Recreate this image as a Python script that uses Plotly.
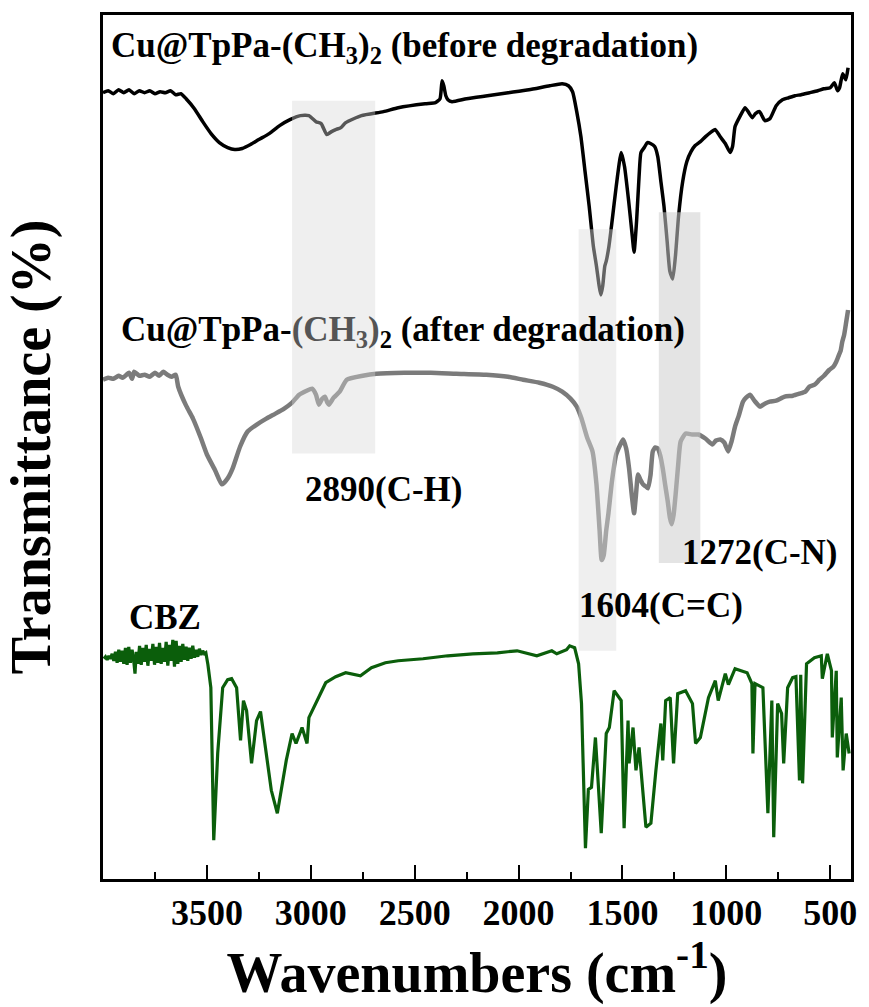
import plotly.graph_objects as go

# ---- FTIR spectra (wavenumber in cm^-1, transmittance in stacked arbitrary units) ----
before_wn = [4000, 3975, 3950, 3925, 3900, 3875, 3850, 3825, 3800, 3775, 3750, 3725, 3700, 3675,
             3650, 3625, 3600, 3560, 3520, 3480, 3440, 3400, 3366, 3330, 3290, 3250, 3200, 3150,
             3100, 3050, 3009, 2975, 2950, 2923, 2900, 2880, 2855, 2832, 2756, 2650, 2579, 2450,
             2400, 2378, 2368, 2360, 2350, 2340, 2320, 2250, 2150, 2050, 1950, 1850, 1790, 1760,
             1740, 1720, 1700, 1680, 1660, 1640, 1625, 1612, 1604, 1595, 1585, 1578, 1565, 1550,
             1530, 1506, 1490, 1470, 1455, 1444, 1432, 1420, 1411, 1395, 1380, 1365, 1345, 1330,
             1315, 1300, 1285, 1272, 1258, 1245, 1230, 1210, 1190, 1170, 1150, 1125, 1100, 1077,
             1053, 1030, 1005, 982, 970, 958, 935, 910, 895, 875, 860, 840, 815, 790, 760,
             730, 700, 670, 640, 600, 560, 530, 500, 480, 465, 455, 440, 425, 414]
before_t = [78.9, 79.1, 78.8, 79.2, 78.9, 79.2, 78.8, 79.1, 78.9, 79.1, 78.8, 79.0, 78.9, 79.1,
            78.7, 78.8, 78.3, 77.3, 76.0, 74.8, 73.9, 73.4, 73.2, 73.3, 73.7, 74.2, 74.8, 75.6,
            76.2, 76.6, 76.6, 76.0, 75.8, 74.7, 75.0, 75.2, 75.4, 75.9, 76.6, 77.0, 77.4, 77.8,
            77.9, 78.3, 80.1, 79.6, 78.6, 78.2, 78.0, 78.3, 78.6, 78.9, 79.2, 79.6, 79.8, 79.6,
            79.0, 77.0, 74.5, 71.0, 67.5, 63.5, 61.5, 59.5, 58.6, 59.5, 61.5, 62.0, 63.5, 66.0,
            69.5, 72.9, 71.5, 68.0, 65.0, 62.9, 66.0, 70.5, 72.9, 73.4, 73.9, 73.8, 73.5, 72.5,
            70.0, 67.5, 64.0, 61.0, 60.2, 62.5, 66.5, 70.0, 72.0, 73.0, 73.6, 74.0, 74.5, 74.9,
            75.2, 74.5, 73.8, 72.9, 73.5, 75.5, 76.5, 77.4, 77.0, 76.4, 76.8, 77.0, 76.1, 76.3,
            77.6, 78.2, 78.4, 78.6, 78.7, 78.9, 79.1, 79.3, 79.4, 79.9, 79.1, 79.4, 80.8, 80.2, 81.4]

after_wn = [4000, 3975, 3950, 3925, 3905, 3875, 3860, 3850, 3825, 3800, 3775, 3750, 3730, 3710,
            3690, 3670, 3650, 3638, 3600, 3567, 3530, 3500, 3460, 3428, 3400, 3376, 3340, 3304,
            3260, 3214, 3170, 3128, 3090, 3056, 3020, 2994, 2975, 2961, 2945, 2932, 2920, 2913,
            2890, 2861, 2827, 2750, 2684, 2550, 2422, 2300, 2155, 2050, 1978, 1900, 1835, 1790,
            1750, 1720, 1697, 1670, 1644, 1625, 1610, 1600, 1590, 1578, 1568, 1550, 1530, 1510,
            1497, 1482, 1468, 1455, 1444, 1435, 1425, 1412, 1401, 1388, 1377, 1365, 1354, 1342,
            1330, 1318, 1306, 1294, 1282, 1272, 1263, 1254, 1244, 1232, 1220, 1196, 1165, 1134,
            1101, 1067, 1050, 1029, 1010, 991, 975, 958, 940, 920, 905, 886, 865, 838, 815, 791,
            760, 719, 680, 648, 620, 600, 575, 552, 530, 504, 485, 471, 458, 450, 442, 433, 423, 414]
after_t = [50.1, 50.3, 50.2, 50.5, 50.3, 50.8, 50.2, 50.9, 50.5, 50.6, 50.4, 50.8, 50.5, 50.9,
           50.6, 50.4, 50.6, 49.4, 47.5, 46.2, 44.3, 42.6, 41.0, 39.6, 40.2, 41.2, 43.4, 44.9,
           45.6, 46.2, 46.7, 47.2, 47.8, 48.6, 49.0, 49.2, 48.6, 47.6, 48.2, 48.4, 47.8, 47.6,
           48.3, 48.9, 50.1, 50.5, 50.7, 50.8, 50.8, 50.7, 50.6, 50.4, 50.1, 49.8, 49.4, 48.9,
           48.2, 47.4, 46.2, 44.3, 42.9, 39.6, 35.0, 32.0, 32.5, 35.0, 36.6, 40.0, 42.6, 43.6,
           44.1, 43.2, 41.2, 38.5, 36.7, 38.5, 40.6, 40.0, 39.6, 39.4, 39.2, 40.5, 42.9, 43.3,
           43.2, 42.5, 41.2, 39.5, 37.9, 36.3, 35.6, 36.5, 38.6, 41.5, 43.9, 44.7, 44.6, 44.6,
           44.2, 43.6, 44.0, 44.1, 43.8, 42.9, 43.9, 45.4, 46.5, 47.9, 48.3, 48.6, 48.0, 47.4,
           47.7, 47.9, 48.0, 48.4, 48.5, 48.7, 48.9, 49.4, 49.6, 50.1, 50.5, 51.1, 51.4, 51.9,
           52.6, 53.0, 53.9, 54.6, 55.9, 57.1]

cbz_wn = [3996, 3988, 3980, 3972, 3964, 3956, 3948, 3940, 3932, 3924, 3916, 3908, 3900, 3892,
          3884, 3876, 3868, 3860, 3852, 3846, 3840, 3832, 3824, 3816, 3808, 3800, 3792, 3784,
          3776, 3768, 3760, 3752, 3744, 3736, 3728, 3720, 3712, 3704, 3696, 3688, 3680, 3672,
          3664, 3656, 3648, 3640, 3632, 3624, 3616, 3608, 3600, 3592, 3584, 3576, 3568, 3560,
          3552, 3544, 3536, 3528, 3520, 3512, 3505,
          3495, 3481, 3467, 3448, 3424, 3400, 3381,
          3357, 3338, 3324, 3309, 3285, 3261, 3242, 3214, 3190, 3161, 3118, 3090, 3071, 3042,
          3018, 3009, 2961, 2928, 2880, 2832, 2761, 2708, 2641, 2579, 2460, 2341, 2220, 2102,
          2007, 1912, 1840, 1816, 1769, 1754, 1730, 1711, 1697, 1678, 1664, 1649, 1630, 1602,
          1578, 1563, 1540, 1506, 1492, 1473, 1468, 1449, 1435, 1420, 1387, 1363, 1339, 1315,
          1306, 1292, 1270, 1254, 1234, 1196, 1163, 1148, 1125, 1086, 1053, 1039, 1005, 990,
          958, 900, 877, 872, 862, 824, 800, 781, 772, 753, 734, 724, 705, 681, 665, 648,
          642, 633, 614, 576, 543, 538, 514, 494, 490, 471, 466, 447, 438, 423, 409]
cbz_t = [22.1, 22.3, 22.0, 22.4, 22.1, 22.6, 21.9, 22.8, 21.7, 23.0, 21.8, 22.9, 21.6, 23.2,
         21.5, 23.3, 21.7, 23.0, 21.9, 20.6, 22.8, 21.6, 23.4, 21.5, 23.2, 21.8, 23.5, 21.4,
         23.1, 21.9, 23.6, 21.5, 23.3, 21.7, 23.7, 21.6, 23.2, 21.8, 23.8, 21.4, 23.5, 21.9,
         24.0, 21.3, 23.9, 21.6, 23.4, 21.8, 23.6, 22.0, 23.3, 21.9, 23.2, 22.1, 23.4, 22.2,
         23.0, 22.3, 23.1, 22.5, 22.9, 22.6, 22.7,
         21.5, 19.2, 3.9, 12.6, 19.2, 20.0, 20.1,
         19.2, 13.9, 17.9, 16.9, 11.6, 15.9, 16.8, 12.6, 8.9, 6.6, 11.9, 14.6, 13.6, 15.2,
         13.6, 16.2, 18.2, 19.7, 20.3, 20.7, 20.4, 21.2, 21.7, 21.9, 22.1, 22.4, 22.6, 22.7,
         22.9, 22.4, 22.9, 22.6, 23.0, 23.4, 23.2, 21.6, 17.6, 3.1, 9.0, 9.2, 14.2, 4.6,
         14.6, 15.2, 18.9, 17.9, 5.1, 15.9, 11.6, 15.2, 10.9, 13.2, 5.2, 5.6, 10.9, 15.6,
         11.9, 17.9, 18.2, 11.6, 18.6, 18.9, 17.6, 13.6, 14.2, 18.2, 19.9, 17.9, 20.6, 19.5,
         21.1, 20.7, 19.6, 12.6, 19.6, 19.2, 6.6, 17.9, 4.2, 17.6, 16.6, 11.6, 19.2, 20.2, 20.3, 9.9,
         20.5, 9.6, 21.6, 22.2, 22.4, 20.1, 22.6, 20.9, 14.2, 20.9, 12.2, 18.2, 10.9, 14.6, 12.6]

# highlighted bands: (wn_start, wn_end, t_low, t_high, fill)
bands = [
    (3090, 2690, 42.7, 78.1, "rgba(215,215,215,0.40)"),
    (1711, 1530, 22.9, 65.2, "rgba(220,220,220,0.45)"),
    (1325, 1125, 31.7, 66.9, "rgba(205,205,205,0.55)"),
]

x_ticks = [3500, 3000, 2500, 2000, 1500, 1000, 500]

SERIF = "Liberation Serif, Times New Roman, serif"

fig = go.Figure()
fig.add_trace(go.Scatter(x=before_wn, y=before_t, mode="lines",
                         line=dict(color="#000000", width=3.5, shape="spline", smoothing=0.5),
                         name="before"))
fig.add_trace(go.Scatter(x=after_wn, y=after_t, mode="lines",
                         line=dict(color="#7b7b7b", width=4.5, shape="spline", smoothing=0.5),
                         name="after"))
fig.add_trace(go.Scatter(x=cbz_wn, y=cbz_t, mode="lines",
                         line=dict(color="#0b5e0b", width=3.2), name="CBZ"))

for x0, x1, y0, y1, fill in bands:
    fig.add_shape(type="rect", xref="x", yref="y", x0=x0, x1=x1, y0=y0, y1=y1,
                  fillcolor=fill, line=dict(width=0), layer="above")

label_font = dict(family=SERIF, size=35, color="#000000")
fig.add_annotation(x=3972, y=83.4, xanchor="left", yanchor="middle", showarrow=False,
                   text="<b>Cu@TpPa-(CH<sub>3</sub>)<sub>2</sub> (before degradation)</b>",
                   font=label_font)
fig.add_annotation(x=3925, y=54.9, xanchor="left", yanchor="middle", showarrow=False,
                   text="<b>Cu@TpPa-<span style='color:#555555'>(CH<sub>3</sub>)</span><sub>2</sub> (after degradation)</b>",
                   font=label_font)
fig.add_annotation(x=2651, y=39.1, showarrow=False, text="<b>2890(C-H)</b>", font=label_font)
fig.add_annotation(x=1315, y=27.4, showarrow=False, text="<b>1604(C=C)</b>", font=label_font)
fig.add_annotation(x=838, y=32.8, showarrow=False, text="<b>1272(C-N)</b>", font=label_font)
fig.add_annotation(x=3700, y=26.2, showarrow=False, text="<b>CBZ</b>", font=label_font)

fig.update_xaxes(
    range=[4000, 400], autorange=False,
    tickmode="array", tickvals=x_ticks, ticktext=[f"<b>{v}</b>" for v in x_ticks],
    ticks="inside", ticklen=14, tickwidth=2, tickcolor="#000000",
    minor=dict(ticks="inside", ticklen=7, tickwidth=2, tickcolor="#000000", dtick=250,
               tick0=500, showgrid=False),
    showline=True, linewidth=3, linecolor="#000000", mirror=True,
    showgrid=False, zeroline=False,
    tickfont=dict(family=SERIF, size=36, color="#000000"),
    title=dict(text="<b>Wavenumbers (cm<sup>-1</sup>)</b>", standoff=8,
               font=dict(family=SERIF, size=56, color="#000000")),
)
fig.update_yaxes(
    range=[0, 86.7], autorange=False,
    showticklabels=False, ticks="",
    showline=True, linewidth=3, linecolor="#000000", mirror=True,
    showgrid=False, zeroline=False,
    title=dict(text="<b>Transmittance (%)</b>", standoff=38,
               font=dict(family=SERIF, size=56, color="#000000")),
)

fig.update_layout(
    width=869, height=1007,
    margin=dict(l=103, r=15, t=12, b=128),
    paper_bgcolor="#ffffff", plot_bgcolor="#ffffff",
    showlegend=False,
)

fig.write_html("out.html")
